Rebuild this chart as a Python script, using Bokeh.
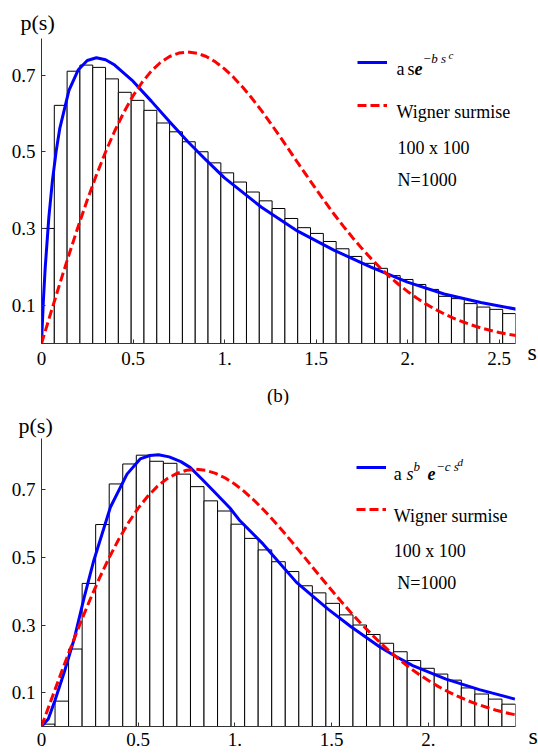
from bokeh.plotting import figure
from bokeh.models import Range1d, FixedTicker, Label, Legend, LegendItem
from bokeh.layouts import column
from bokeh.embed import file_html
from bokeh.resources import INLINE

# ---------------- data ----------------
BIN_WIDTH = 0.07

# panel (a): histogram heights, 37 bins of width 0.07 starting at 0
top_counts = [0.300, 0.621, 0.710, 0.726, 0.720, 0.690, 0.655, 0.634, 0.608, 0.575,
              0.552, 0.526, 0.500, 0.471, 0.445, 0.421, 0.395, 0.372, 0.352, 0.326,
              0.302, 0.287, 0.266, 0.247, 0.227, 0.209, 0.196, 0.177, 0.167, 0.154,
              0.141, 0.123, 0.117, 0.104, 0.095, 0.089, 0.078]

# panel (b): histogram heights, 35 bins of width 0.07 starting at 0
bottom_counts = [0.007, 0.075, 0.229, 0.423, 0.597, 0.717, 0.776, 0.802, 0.784, 0.778,
                 0.746, 0.709, 0.667, 0.637, 0.598, 0.556, 0.522, 0.487, 0.458, 0.416,
                 0.395, 0.364, 0.330, 0.300, 0.272, 0.246, 0.221, 0.195, 0.172, 0.155,
                 0.137, 0.114, 0.096, 0.081, 0.066]

# Wigner surmise (red dashed), same curve in both panels
wigner_s = [0, .05, .1, .15, .2, .25, .3, .35, .4, .45, .5, .55, .6, .65, .7, .75, .8, .85,
            .9, .95, 1.0, 1.05, 1.1, 1.15, 1.2, 1.25, 1.3, 1.35, 1.4, 1.45, 1.5, 1.55, 1.6,
            1.65, 1.7, 1.75, 1.8, 1.85, 1.9, 1.95, 2.0, 2.05, 2.1, 2.15, 2.2, 2.25, 2.3,
            2.35, 2.4, 2.45, 2.5, 2.55, 2.6]
wigner_p = [0, .0784, .1559, .2315, .3045, .3739, .4391, .4994, .5541, .6029, .6455,
            .6812, .7105, .7327, .7484, .7574, .7603, .7570, .7484, .7345, .7161, .6938,
            .6680, .6393, .6084, .5755, .5416, .5068, .4714, .4369, .4025, .3690, .3364,
            .3055, .2760, .2481, .2220, .1976, .1751, .1545, .1358, .1187, .1033, .0895,
            .0772, .0663, .0568, .0482, .0408, .0345, .0289, .0243, .0202]

# fit a s e^(-b s^c) in panel (a)
fit_a_s = [0, 0.01, 0.02, 0.04, 0.06, 0.08, 0.1, 0.15, 0.2, 0.25, 0.3, 0.35, 0.4, 0.5,
           0.6, 0.7, 0.8, 0.9, 1.0, 1.2, 1.4, 1.6, 1.8, 2.0, 2.2, 2.4, 2.6]
fit_a_p = [0, 0.110, 0.196, 0.328, 0.426, 0.501, 0.561, 0.660, 0.713, 0.738, 0.745,
           0.740, 0.726, 0.684, 0.632, 0.578, 0.526, 0.478, 0.432, 0.356, 0.293, 0.243,
           0.199, 0.160, 0.129, 0.107, 0.089]

# fit a s^b e^(-c s^d) in panel (b)
fit_b_s = [0, 0.035, 0.069, 0.12, 0.17, 0.22, 0.27, 0.356, 0.442, 0.51, 0.56, 0.605,
           0.66, 0.72, 0.768, 0.83, 0.888, 0.974, 1.026, 1.146, 1.318, 1.481, 1.6, 1.747,
           1.825, 1.919, 2.091, 2.263, 2.447]
fit_b_p = [0, 0.022, 0.076, 0.165, 0.261, 0.380, 0.490, 0.648, 0.746, 0.791, 0.801,
           0.803, 0.797, 0.783, 0.766, 0.731, 0.697, 0.646, 0.608, 0.539, 0.426, 0.347,
           0.295, 0.236, 0.209, 0.180, 0.140, 0.109, 0.081]

y_ticks = [0.1, 0.3, 0.5, 0.7]
top_x_ticks = [0, 0.5, 1, 1.5, 2, 2.5]
top_x_labels = ["0", "0.5", "1.", "1.5", "2.", "2.5"]
bottom_x_ticks = [0, 0.5, 1, 1.5, 2]
bottom_x_labels = ["0", "0.5", "1.", "1.5", "2."]

SERIF = "Liberation Serif"
BLUE = "#0000ff"
RED = "#ff0000"
AXIS = "#333333"

W = 538
LEFT = 41
FRAME_W = 474


def make_panel(height, b_top, b_bottom, frame_h, xmax, yscale, counts, fit_s, fit_p,
               xticks, xlabels, x_standoff):
    p = figure(width=W, height=height, output_backend="svg", toolbar_location=None,
               x_range=Range1d(0, xmax), y_range=Range1d(0, frame_h / yscale),
               min_border_left=LEFT, min_border_right=W - LEFT - FRAME_W,
               min_border_top=b_top, min_border_bottom=b_bottom)
    p.grid.visible = False
    p.outline_line_color = None
    p.background_fill_color = "white"
    p.border_fill_color = "white"

    n = len(counts)
    lefts = [i * BIN_WIDTH for i in range(n)]
    rights = [(i + 1) * BIN_WIDTH for i in range(n)]
    p.quad(left=lefts, right=rights, bottom=0, top=counts,
           fill_color="white", line_color="black", line_width=1)
    blue = p.line(fit_s, fit_p, line_color=BLUE, line_width=3)
    red = p.line(wigner_s, wigner_p, line_color=RED, line_width=3, line_dash="9 4")

    for ax in (p.xaxis[0], p.yaxis[0]):
        ax.axis_line_color = AXIS
        ax.major_tick_line_color = AXIS
        ax.major_tick_in = 4
        ax.major_tick_out = 0
        ax.minor_tick_in = 0
        ax.minor_tick_out = 0
        ax.minor_tick_line_color = None
        ax.major_label_text_font = SERIF
        ax.major_label_text_font_size = "19px"
        ax.major_label_text_color = "black"
    p.yaxis.ticker = FixedTicker(ticks=y_ticks)
    p.yaxis.major_label_standoff = 6
    p.xaxis.ticker = FixedTicker(ticks=xticks)
    p.xaxis.major_label_overrides = {float(t): l for t, l in zip(xticks, xlabels)}
    p.xaxis.major_label_standoff = x_standoff
    return p, blue, red


def add_text(p, conv, px, py, text, size="18px", style="normal"):
    """Text inside the plot frame, positioned through the panel's scales."""
    x, y = conv(px, py)
    p.add_layout(Label(x=x, y=y, text=text, text_font=SERIF, text_font_size=size,
                       text_font_style=style, text_color="black",
                       text_baseline="alphabetic", text_align="left"))


def add_outer_text(p, place, cx, cy, text, size):
    """Text outside the frame (axis names, panel tag), in canvas pixels."""
    p.add_layout(Label(x=cx, y=cy, x_units="canvas", y_units="canvas", text=text,
                       text_font=SERIF, text_font_size=size, text_color="black",
                       text_baseline="alphabetic", text_align="left"), place)


def make_legend(blue, red, x_off, bottom_off, spacing):
    return Legend(items=[LegendItem(label=" ", renderers=[blue]),
                         LegendItem(label=" ", renderers=[red])],
                  location=(x_off, bottom_off), orientation="vertical",
                  glyph_width=30, glyph_height=24, label_height=24, label_width=1,
                  label_standoff=0, spacing=spacing, padding=0, margin=0,
                  border_line_color=None, background_fill_alpha=0,
                  label_text_font=SERIF, label_text_font_size="18px")


# ---------------- panel (a) ----------------
TOP_H = 405
TOP_BT, TOP_BB = 38, 62
TOP_FH = TOP_H - TOP_BT - TOP_BB
TOP_XMAX = len(top_counts) * BIN_WIDTH
TOP_YS = 383.5
top_sx = FRAME_W / TOP_XMAX
top_y0 = TOP_BT + TOP_FH  # pixel row of p=0


def conv_top(px, py):
    return (px - LEFT) / top_sx, (top_y0 - py) / TOP_YS


p1, b1, r1 = make_panel(TOP_H, TOP_BT, TOP_BB, TOP_FH, TOP_XMAX, TOP_YS, top_counts,
                        fit_a_s, fit_a_p, top_x_ticks, top_x_labels, 8)
p1.add_layout(make_legend(b1, r1, 357 - LEFT, top_y0 - 117, 19))

add_text(p1, conv_top, 396, 68, "a")
add_text(p1, conv_top, 407, 68, "s")
add_text(p1, conv_top, 414, 68, "e", "18px", "bold italic")
add_text(p1, conv_top, 422, 58, "\u2212b s", "13px", "italic")
add_text(p1, conv_top, 448, 54, "c", "11px", "italic")
add_text(p1, conv_top, 396, 111.7, "Wigner surmise")
add_text(p1, conv_top, 397, 147.7, "100 x 100")
add_text(p1, conv_top, 397, 179, "N=1000")
add_outer_text(p1, "above", 20, 21.5, "p(s)", "22px")
add_outer_text(p1, "right", 527, 351.5, "s", "24px")
add_outer_text(p1, "below", 266.5, 395, "(b)", "19px")

# ---------------- panel (b) ----------------
BOT_H = 756 - TOP_H
BOT_BT, BOT_BB = 33, 30
BOT_FH = BOT_H - BOT_BT - BOT_BB
BOT_XMAX = len(bottom_counts) * BIN_WIDTH
BOT_YS = 338.3
bot_sx = FRAME_W / BOT_XMAX
bot_y0 = TOP_H + BOT_BT + BOT_FH


def conv_bot(px, py):
    return (px - LEFT) / bot_sx, (bot_y0 - py) / BOT_YS


p2, b2, r2 = make_panel(BOT_H, BOT_BT, BOT_BB, BOT_FH, BOT_XMAX, BOT_YS, bottom_counts,
                        fit_b_s, fit_b_p, bottom_x_ticks, bottom_x_labels, 6)
p2.add_layout(make_legend(b2, r2, 356 - LEFT, bot_y0 - 521.3, 18))

add_text(p2, conv_bot, 393.3, 473.3, "a")
add_text(p2, conv_bot, 406, 473.3, "s", "18px", "italic")
add_text(p2, conv_bot, 413, 466, "b", "13px", "italic")
add_text(p2, conv_bot, 427, 473.3, "e", "18px", "bold italic")
add_text(p2, conv_bot, 435.5, 466, "\u2212c s", "13px", "italic")
add_text(p2, conv_bot, 457, 461, "d", "11px", "italic")
add_text(p2, conv_bot, 393.3, 515, "Wigner surmise")
add_text(p2, conv_bot, 393.3, 550, "100 x 100")
add_text(p2, conv_bot, 396.7, 582.7, "N=1000")
add_outer_text(p2, "above", 18, 425.3 - TOP_H, "p(s)", "22px")
add_outer_text(p2, "right", 528, 735 - TOP_H, "s", "24px")

layout = column(p1, p2, spacing=0)
open("out.html", "w").write(file_html(layout, INLINE))
